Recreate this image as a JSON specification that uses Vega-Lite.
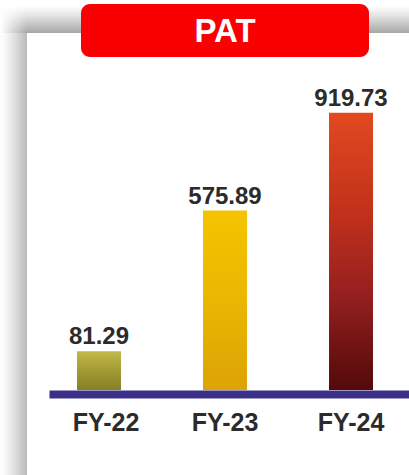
{
  "$schema": "https://vega.github.io/schema/vega-lite/v6.json",
  "width": 409,
  "height": 475,
  "autosize": {"type": "none"},
  "padding": 0,
  "background": "#ffffff",
  "config": {"view": {"stroke": null}, "font": "Liberation Sans"},
  "data": {
    "values": [
      {"year": "FY-22", "pat": 81.29},
      {"year": "FY-23", "pat": 575.89},
      {"year": "FY-24", "pat": 919.73}
    ]
  },
  "layer": [
    {
      "data": {"values": [{}]},
      "mark": {
        "type": "rect",
        "color": {
          "gradient": "linear", "x1": 0, "y1": 0, "x2": 1, "y2": 0,
          "stops": [
            {"offset": 0, "color": "#ffffff"},
            {"offset": 0.012, "color": "#f9f9f9"},
            {"offset": 0.04, "color": "#dadada"},
            {"offset": 0.066, "color": "#bababa"},
            {"offset": 0.0661, "color": "#ffffff"},
            {"offset": 1, "color": "#ffffff"}
          ]
        }
      },
      "encoding": {
        "y": {"datum": 1200, "type": "quantitative", "scale": {"domain": [-354, 1316], "nice": false, "zero": false}, "axis": null},
        "y2": {"datum": -354}
      }
    },
    {
      "data": {"values": [{}]},
      "mark": {
        "type": "rect",
        "color": {
          "gradient": "linear", "x1": 0, "y1": 0, "x2": 0, "y2": 1,
          "stops": [
            {"offset": 0, "color": "#ffffff"},
            {"offset": 0.4, "color": "#e0e0e0"},
            {"offset": 1, "color": "#a6a6a6"}
          ]
        }
      },
      "encoding": {
        "y": {"datum": 1295, "type": "quantitative", "scale": {"domain": [-354, 1316], "nice": false, "zero": false}, "axis": null},
        "y2": {"datum": 1200}
      }
    },
    {
      "data": {"values": [{}]},
      "mark": {
        "type": "rect",
        "color": {
          "gradient": "linear", "x1": 0, "y1": 0, "x2": 1, "y2": 0,
          "stops": [
            {"offset": 0, "color": "rgba(255,255,255,1)"},
            {"offset": 0.066, "color": "rgba(255,255,255,0)"},
            {"offset": 1, "color": "rgba(255,255,255,0)"}
          ]
        }
      },
      "encoding": {
        "y": {"datum": 1295, "type": "quantitative", "scale": {"domain": [-354, 1316], "nice": false, "zero": false}, "axis": null},
        "y2": {"datum": 1200}
      }
    },
    {
      "mark": {"type": "bar"},
      "encoding": {
        "x": {
          "field": "year", "type": "nominal",
          "scale": {"domain": ["FY-22", "FY-23", "FY-24"], "range": [49, 409], "paddingInner": 0.651, "paddingOuter": 0.254, "align": 0.4375},
          "axis": {
            "orient": "bottom", "offset": -81, "title": null, "ticks": false, "grid": false, "zindex": 1,
            "domainColor": "#3b3088", "domainWidth": 8, "domainCap": "butt",
            "labelFontSize": 25, "labelFontWeight": "bold", "labelColor": "#2b2b2b",
            "labelPadding": 36, "labelBaseline": "alphabetic", "labelAngle": 0,
            "labelOffset": {"condition": {"test": "datum.value === 'FY-22'", "value": 7}, "value": 0}
          }
        },
        "y": {"field": "pat", "type": "quantitative", "scale": {"domain": [-354, 1316], "nice": false, "zero": false}, "axis": null},
        "y2": {"datum": -55},
        "color": {
          "condition": [
            {"test": "datum.year === 'FY-22'", "value": {
              "gradient": "linear", "x1": 0, "y1": 0, "x2": 0, "y2": 1,
              "stops": [
                {"offset": 0, "color": "#c2b948"},
                {"offset": 0.5, "color": "#a39b33"},
                {"offset": 1, "color": "#857e26"}
              ]
            }},
            {"test": "datum.year === 'FY-23'", "value": {
              "gradient": "linear", "x1": 0, "y1": 0, "x2": 0, "y2": 1,
              "stops": [
                {"offset": 0, "color": "#f4c400"},
                {"offset": 0.5, "color": "#ebb602"},
                {"offset": 1, "color": "#dca305"}
              ]
            }}
          ],
          "value": {
            "gradient": "linear", "x1": 0, "y1": 0, "x2": 0, "y2": 1,
            "stops": [
              {"offset": 0, "color": "#e2491f"},
              {"offset": 0.35, "color": "#c2321a"},
              {"offset": 0.65, "color": "#962020"},
              {"offset": 1, "color": "#540909"}
            ]
          }
        }
      }
    },
    {
      "data": {"values": [{}]},
      "mark": {"type": "rect", "color": "#fa0000", "cornerRadius": 9, "width": 288},
      "encoding": {
        "x": {"datum": "FY-23", "type": "nominal"},
        "y": {"datum": 1302, "type": "quantitative", "scale": {"domain": [-354, 1316], "nice": false, "zero": false}, "axis": null},
        "y2": {"datum": 1115.6}
      }
    },
    {
      "data": {"values": [{}]},
      "mark": {"type": "text", "text": "PAT", "color": "#ffffff", "fontSize": 33, "fontWeight": "bold", "baseline": "alphabetic", "align": "center"},
      "encoding": {
        "x": {"datum": "FY-23", "type": "nominal"},
        "y": {"datum": 1167, "type": "quantitative", "scale": {"domain": [-354, 1316], "nice": false, "zero": false}, "axis": null}
      }
    },
    {
      "mark": {"type": "text", "dy": -7, "baseline": "alphabetic", "align": "center", "fontSize": 24, "fontWeight": "bold", "color": "#2b2b2b"},
      "encoding": {
        "x": {"field": "year", "type": "nominal"},
        "y": {"field": "pat", "type": "quantitative", "scale": {"domain": [-354, 1316], "nice": false, "zero": false}, "axis": null},
        "text": {"field": "pat", "type": "quantitative", "format": ".2f"}
      }
    }
  ]
}
